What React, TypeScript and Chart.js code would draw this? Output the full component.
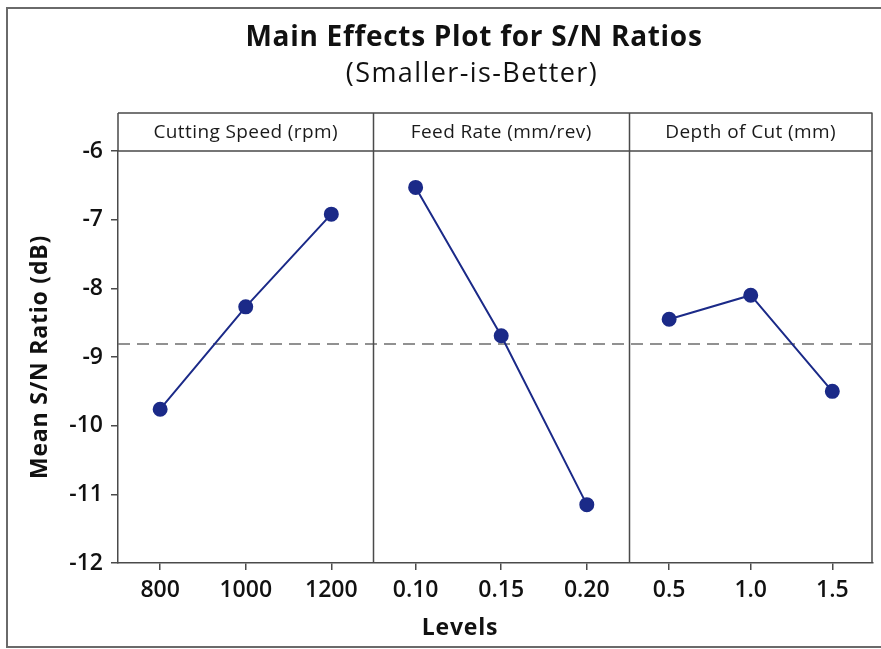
import React, { useEffect, useRef } from "react";
import { Chart, registerables } from "chart.js";

Chart.register(...registerables);

// ---- data ----
const speedLevels = ["800", "1000", "1200"];
const feedLevels = ["0.10", "0.15", "0.20"];
const depthLevels = ["0.5", "1.0", "1.5"];
const speedSN = [-9.76, -8.27, -6.92];
const feedSN = [-6.53, -8.69, -11.15];
const depthSN = [-8.45, -8.1, -9.5];
const overallMean = -8.81;
const panelTitles = ["Cutting Speed (rpm)", "Feed Rate (mm/rev)", "Depth of Cut (mm)"];
const yMin = -12;
const yMax = -6;

// ---- layout (positions on the shared x scale) ----
const panelBounds = [0, 3, 6, 8.86];
const levelFractions = [0.165, 0.5, 0.835];

const FONT = "'Open Sans', 'Noto Sans', sans-serif";
const NAVY = "#1b2a88";

const panels = [
  { labels: speedLevels, values: speedSN },
  { labels: feedLevels, values: feedSN },
  { labels: depthLevels, values: depthSN },
];

const positions: number[] = [];
const tickLabelMap: Record<string, string> = {};
const datasets: any[] = panels.map((p, i) => {
  const a = panelBounds[i];
  const w = panelBounds[i + 1] - a;
  const pts = p.values.map((v, j) => {
    const x = a + w * levelFractions[j];
    positions.push(x);
    tickLabelMap[x.toFixed(4)] = p.labels[j];
    return { x, y: v };
  });
  return {
    data: pts,
    borderColor: NAVY,
    backgroundColor: NAVY,
    pointBackgroundColor: NAVY,
    pointBorderColor: NAVY,
    pointRadius: 6.5,
    borderWidth: 2,
    showLine: true,
  };
});
datasets.push({
  data: [
    { x: panelBounds[0], y: overallMean },
    { x: panelBounds[panelBounds.length - 1], y: overallMean },
  ],
  borderColor: "#6e6e6e",
  borderWidth: 1.6,
  borderDash: [12, 7],
  pointRadius: 0,
  showLine: true,
});

function spaced(ctx: any, px: number) {
  try {
    ctx.letterSpacing = px + "px";
  } catch (e) {}
}

const decor = {
  id: "decor",
  beforeDraw(chart: any) {
    const ctx = chart.ctx;
    ctx.save();
    ctx.fillStyle = "#ffffff";
    ctx.fillRect(0, 0, chart.width, chart.height);
    ctx.restore();
  },
  afterDraw(chart: any) {
    const ctx = chart.ctx;
    const { left, right, top, bottom } = chart.chartArea;
    const xs = chart.scales.x;
    ctx.save();
    // outer frame
    ctx.strokeStyle = "#6a6a6a";
    ctx.lineWidth = 2;
    ctx.beginPath();
    ctx.moveTo(chart.width + 2, 8);
    ctx.lineTo(7, 8);
    ctx.lineTo(7, 647);
    ctx.lineTo(chart.width + 2, 647);
    ctx.stroke();

    // titles
    ctx.fillStyle = "#111";
    ctx.textAlign = "center";
    ctx.textBaseline = "middle";
    ctx.font = `bold 28px ${FONT}`;
    spaced(ctx, 0.7);
    ctx.fillText("Main Effects Plot for S/N Ratios", 474, 38);
    ctx.font = `27px ${FONT}`;
    spaced(ctx, 1.4);
    ctx.fillText("(Smaller-is-Better)", 472, 74);

    // header box and panel frames
    const headTop = 113;
    ctx.strokeStyle = "#4a4a4a";
    ctx.lineWidth = 1.5;
    ctx.beginPath();
    ctx.moveTo(left, headTop);
    ctx.lineTo(right, headTop);
    ctx.moveTo(left, top);
    ctx.lineTo(right, top);
    ctx.moveTo(left, headTop);
    ctx.lineTo(left, top);
    ctx.moveTo(right - 0.5, headTop);
    ctx.lineTo(right - 0.5, bottom);
    for (let i = 1; i < panelBounds.length - 1; i++) {
      const px = Math.round(xs.getPixelForValue(panelBounds[i])) + 0.5;
      ctx.moveTo(px, headTop);
      ctx.lineTo(px, bottom);
    }
    ctx.stroke();

    ctx.font = `19px ${FONT}`;
    spaced(ctx, 0.4);
    ctx.fillStyle = "#1a1a1a";
    panelTitles.forEach((t, i) => {
      const a = xs.getPixelForValue(panelBounds[i]);
      const b = xs.getPixelForValue(panelBounds[i + 1]);
      ctx.fillText(t, (a + b) / 2, (headTop + top) / 2 + 1);
    });

    // axis titles
    ctx.font = `bold 23px ${FONT}`;
    spaced(ctx, 0.8);
    ctx.fillStyle = "#111";
    ctx.fillText("Levels", 460, 628);
    ctx.save();
    ctx.translate(40, (top + bottom) / 2);
    ctx.rotate(-Math.PI / 2);
    ctx.fillText("Mean S/N Ratio (dB)", 0, 0);
    ctx.restore();

    ctx.restore();
  },
};

export default function App() {
  const ref = useRef<HTMLCanvasElement>(null);
  useEffect(() => {
    if (!ref.current) return;
    const chart = new Chart(ref.current, {
      type: "line",
      data: { datasets },
      options: {
        animation: false,
        responsive: false,
        devicePixelRatio: 1,
        layout: { padding: { top: 151, right: 1, left: 0, bottom: 0 } },
        plugins: { legend: { display: false }, tooltip: { enabled: false }, title: { display: false } },
        scales: {
          x: {
            type: "linear",
            min: panelBounds[0],
            max: panelBounds[panelBounds.length - 1],
            afterBuildTicks: (axis: any) => {
              axis.ticks = positions.map((v) => ({ value: v }));
            },
            afterFit: (axis: any) => {
              axis.height = 86;
            },
            ticks: {
              autoSkip: false,
              maxRotation: 0,
              padding: 7,
              color: "#111",
              font: { family: FONT, size: 23, weight: "600" },
              callback: (v: any) => tickLabelMap[Number(v).toFixed(4)] ?? "",
            },
            grid: { drawOnChartArea: false, tickLength: 7, color: "#4a4a4a", lineWidth: 1.5 },
            border: { display: true, color: "#4a4a4a", width: 1.5 },
          },
          y: {
            type: "linear",
            min: yMin,
            max: yMax,
            afterFit: (axis: any) => {
              axis.width = 118;
            },
            ticks: {
              stepSize: 1,
              padding: 8,
              color: "#111",
              font: { family: FONT, size: 23, weight: "600" },
            },
            grid: { drawOnChartArea: false, tickLength: 7, color: "#4a4a4a", lineWidth: 1.5 },
            border: { display: true, color: "#4a4a4a", width: 1.5 },
          },
        },
      },
      plugins: [decor],
    });
    return () => chart.destroy();
  }, []);
  return (
    <div style={{ position: "absolute", left: 0, top: 0, width: 881, height: 649 }}>
      <canvas ref={ref} width={881} height={649} style={{ width: 881, height: 649 }} />
    </div>
  );
}
